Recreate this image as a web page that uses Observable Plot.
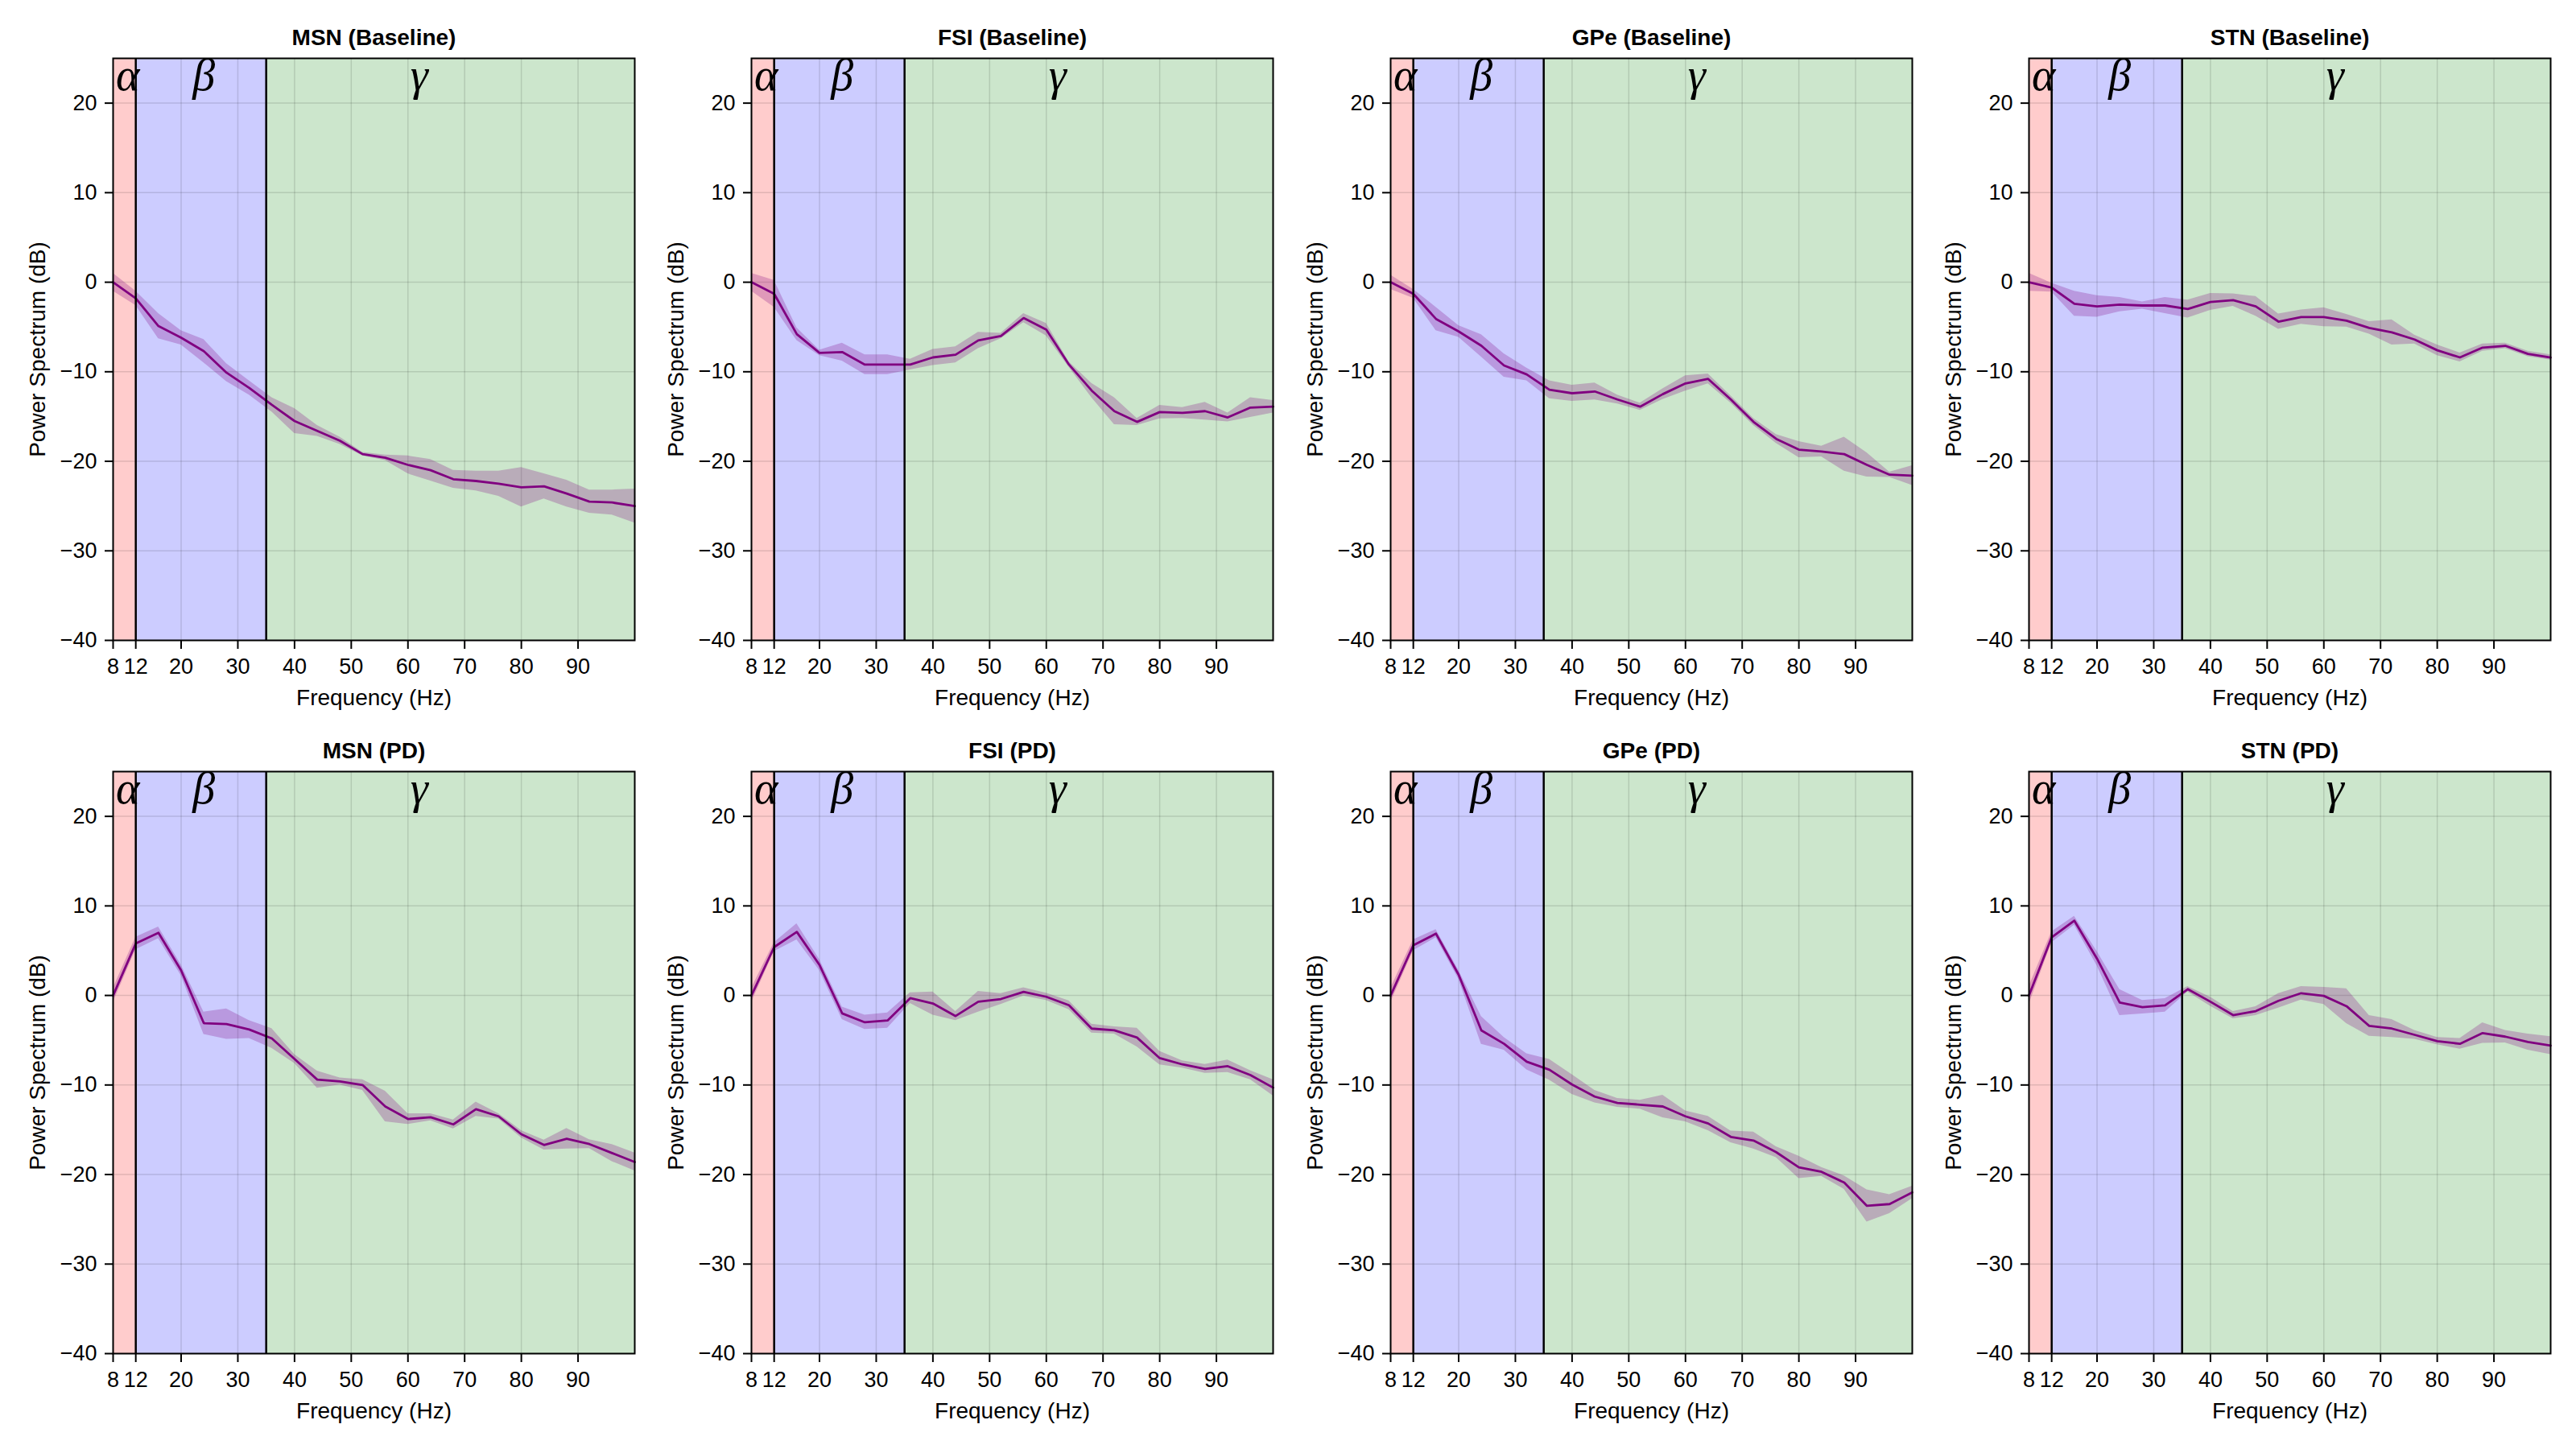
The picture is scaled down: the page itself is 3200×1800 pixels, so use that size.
<!DOCTYPE html>
<html><head><meta charset="utf-8">
<script src="https://cdn.jsdelivr.net/npm/d3@7"></script>
<script src="https://cdn.jsdelivr.net/npm/@observablehq/plot@0.6"></script>
<style>
body{margin:0;background:#fff;}
#chart{position:relative;width:3200px;height:1800px;background:#fff;}
.panel{position:absolute;}
</style></head><body><div id="chart"></div>
<script>
const neurons = ["MSN", "FSI", "GPe", "STN"];
const conditions = ["Baseline", "PD"];
const freqs = [8,12,16,20,24,28,32,36,40,44,48,52,56,60,64,68,72,76,80,84,88,92,96,100];

const msnBaselineMean = [0,-1.8,-4.9,-6.2,-7.7,-10.1,-11.8,-13.7,-15.5,-16.6,-17.7,-19.2,-19.6,-20.4,-21.0,-22.0,-22.2,-22.5,-22.9,-22.8,-23.6,-24.5,-24.6,-25.0];
const msnBaselineErr  = [1.0,0.8,1.4,0.8,1.3,1.0,0.8,0.8,1.4,0.6,0.4,0.2,0.3,1.0,1.2,1.0,1.1,1.4,2.2,1.4,1.5,1.3,1.4,1.9];
const fsiBaselineMean = [0,-1.3,-5.8,-7.9,-7.8,-9.2,-9.2,-9.2,-8.4,-8.1,-6.5,-6.0,-4.0,-5.3,-9.2,-12.1,-14.4,-15.6,-14.5,-14.6,-14.4,-15.1,-14.0,-13.9];
const fsiBaselineErr  = [1.0,1.5,0.7,0.3,1.0,1.1,1.1,0.6,0.9,0.9,0.9,0.3,0.5,0.7,0.3,0.8,1.5,0.4,0.75,0.6,1.0,0.5,1.1,0.7];
const gpeBaselineMean = [0,-1.3,-4.1,-5.5,-7.1,-9.3,-10.3,-12.0,-12.4,-12.2,-13.1,-13.9,-12.5,-11.3,-10.8,-13.1,-15.6,-17.5,-18.7,-18.9,-19.2,-20.4,-21.5,-21.6];
const gpeBaselineErr  = [0.8,0.5,1.3,0.65,1.25,1.3,0.7,1.0,0.9,0.95,0.5,0.4,0.6,0.85,0.55,0.4,0.4,0.5,0.9,0.6,1.9,1.35,0.3,1.1];
const stnBaselineMean = [0,-0.6,-2.4,-2.7,-2.5,-2.6,-2.6,-3.0,-2.2,-2.0,-2.7,-4.4,-3.9,-3.9,-4.3,-5.1,-5.6,-6.4,-7.6,-8.4,-7.3,-7.1,-8.0,-8.4];
const stnBaselineErr  = [1.0,0.5,1.4,1.2,0.8,0.4,0.9,1.0,0.95,0.7,1.1,0.85,0.8,1.05,0.7,0.7,1.4,0.5,0.6,0.5,0.4,0.3,0.3,0.3];
const msnPdMean = [0,5.8,7.0,2.8,-3.1,-3.2,-3.8,-4.8,-7.1,-9.4,-9.6,-10.0,-12.4,-13.8,-13.6,-14.4,-12.7,-13.5,-15.5,-16.7,-16.0,-16.6,-17.6,-18.6];
const msnPdErr  = [0.8,0.7,0.65,0.6,1.25,1.7,1.0,1.1,0.5,0.95,0.4,0.6,1.7,0.6,0.4,0.5,0.8,0.3,0.4,0.55,1.15,0.5,0.95,1.0];
const fsiPdMean = [0,5.4,7.1,3.4,-2.0,-3.0,-2.8,-0.3,-0.9,-2.3,-0.7,-0.4,0.4,-0.15,-1.1,-3.7,-3.9,-4.7,-7.0,-7.7,-8.2,-7.9,-8.9,-10.3];
const fsiPdErr  = [0.8,0.5,0.9,0.6,0.7,0.8,0.85,0.6,1.3,0.5,1.15,0.6,0.45,0.4,0.5,0.5,0.4,1.05,0.75,0.4,0.5,0.7,0.5,0.9];
const gpePdMean = [0,5.6,6.9,2.3,-3.9,-5.4,-7.4,-8.3,-9.95,-11.3,-12.0,-12.2,-12.4,-13.5,-14.3,-15.8,-16.2,-17.5,-19.2,-19.7,-20.9,-23.5,-23.3,-22.0];
const gpePdErr  = [0.8,0.6,0.45,0.5,1.55,0.7,0.9,1.15,1.1,0.7,0.5,0.5,1.25,0.6,0.8,0.65,0.95,0.6,1.25,0.5,0.75,1.8,1.05,0.7];
const stnPdMean = [0,6.5,8.35,4.1,-0.8,-1.3,-1.1,0.7,-0.7,-2.2,-1.75,-0.6,0.25,-0.05,-1.2,-3.4,-3.7,-4.4,-5.1,-5.4,-4.2,-4.6,-5.2,-5.6];
const stnPdErr  = [1.0,0.6,0.5,0.8,1.45,0.75,0.75,0.3,0.5,0.4,0.5,0.8,0.75,0.95,1.95,1.15,1.0,0.5,0.4,0.6,1.15,0.7,0.9,1.0];

const bandNames = ["α", "β", "γ"];
const bandStart = [8, 12, 35];
const bandEnd = [12, 35, 100];
const bandLabelAt = [10.6, 24, 62];
const xTicks = [8, 12, 20, 30, 40, 50, 60, 70, 80, 90];
const yTicks = [-40, -30, -20, -10, 0, 10, 20];
const xDomain = [8, 100];
const yDomain = [-40, 25];

const seriesTable = {
  "MSN|Baseline": [msnBaselineMean, msnBaselineErr],
  "FSI|Baseline": [fsiBaselineMean, fsiBaselineErr],
  "GPe|Baseline": [gpeBaselineMean, gpeBaselineErr],
  "STN|Baseline": [stnBaselineMean, stnBaselineErr],
  "MSN|PD": [msnPdMean, msnPdErr],
  "FSI|PD": [fsiPdMean, fsiPdErr],
  "GPe|PD": [gpePdMean, gpePdErr],
  "STN|PD": [stnPdMean, stnPdErr]
};

const bandFills = ["red", "blue", "green"];
const sans = "'Liberation Sans', Arial, Helvetica, sans-serif";
const serif = "'Liberation Serif', 'Times New Roman', serif";
const bands = bandNames.map((name, i) => ({name, start: bandStart[i], end: bandEnd[i], at: bandLabelAt[i]}));

const chart = document.getElementById("chart");
const colStep = 793.33, rowStep = 886;

conditions.forEach((cond, r) => {
  neurons.forEach((n, c) => {
    const [mean, err] = seriesTable[`${n}|${cond}`];
    const rows = freqs.map((f, i) => ({f, m: mean[i], lo: mean[i] - err[i], hi: mean[i] + err[i]}));
    const plot = Plot.plot({
      width: 793, height: 886,
      marginLeft: 140, marginRight: 5, marginTop: 72, marginBottom: 91,
      x: {domain: xDomain},
      y: {domain: yDomain},
      style: {fontFamily: sans, fontSize: "27px", background: "white", overflow: "visible", color: "black"},
      marks: [
        ...bands.map((b, i) => Plot.rect([b], {x1: "start", x2: "end", fill: bandFills[i], fillOpacity: 0.2})),
        Plot.gridX(xTicks, {stroke: "black", strokeOpacity: 0.12, strokeWidth: 1.5}),
        Plot.gridY(yTicks, {stroke: "black", strokeOpacity: 0.12, strokeWidth: 1.5}),
        Plot.areaY(rows, {x: "f", y1: "lo", y2: "hi", fill: "purple", fillOpacity: 0.25}),
        Plot.line(rows, {x: "f", y: "m", stroke: "purple", strokeWidth: 2.8}),
        Plot.ruleX(bandStart.slice(1), {stroke: "black", strokeWidth: 2.5}),
        Plot.frame({stroke: "black", strokeWidth: 2}),
        Plot.axisX(xTicks, {tickSize: 11, tickPadding: 11, tickFormat: d => String(d), fontSize: 27, label: null, strokeWidth: 2}),
        Plot.axisY(yTicks, {tickSize: 10, tickPadding: 10, tickFormat: d3.format("d"), fontSize: 27, label: null, strokeWidth: 2}),
        Plot.text(bands, {x: "at", text: "name", frameAnchor: "top", dy: 39, lineAnchor: "bottom", textAnchor: "middle", fontFamily: serif, fontStyle: "italic", fontSize: 56}),
        Plot.text([`${n} (${cond})`], {text: d => d, frameAnchor: "top", dy: -25, lineAnchor: "middle", textAnchor: "middle", fontWeight: "bold", fontSize: 28}),
        Plot.text(["Frequency (Hz)"], {text: d => d, frameAnchor: "bottom", dy: 72, lineAnchor: "middle", textAnchor: "middle", fontSize: 28}),
        Plot.text(["Power Spectrum (dB)"], {text: d => d, frameAnchor: "left", dx: -93, rotate: -90, lineAnchor: "middle", textAnchor: "middle", fontSize: 28})
      ]
    });
    plot.classList.add("panel");
    plot.style.left = Math.round(c * colStep) + "px";
    plot.style.top = (r * rowStep) + "px";
    chart.appendChild(plot);
  });
});
</script></body></html>
